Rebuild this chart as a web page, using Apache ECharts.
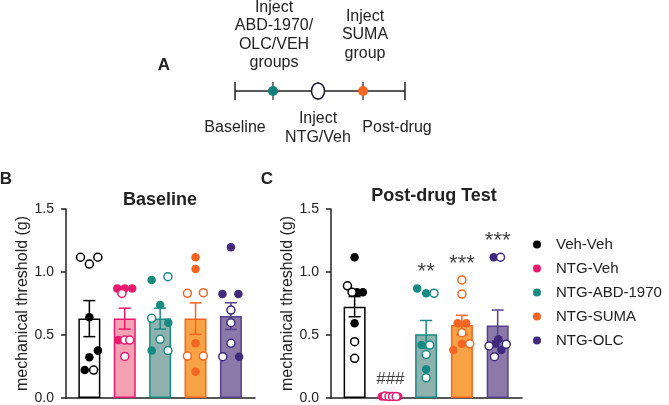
<!DOCTYPE html>
<html><head><meta charset="utf-8">
<script src="https://cdn.jsdelivr.net/npm/echarts@6/dist/echarts.min.js"></script>
<style>html,body{margin:0;padding:0;background:#fff}#c{width:669px;height:405px}</style>
</head><body><div id="c"></div>
<script>
// ---------- data ----------
const groups = ['Veh-Veh', 'NTG-Veh', 'NTG-ABD-1970', 'NTG-SUMA', 'NTG-OLC'];
const yTicks = [0, 0.5, 1.0, 1.5];

// Baseline panel (B)
const baseMean = [0.63, 0.63, 0.63, 0.63, 0.65];
const baseSem  = [0.143, 0.083, 0.083, 0.125, 0.106];
const baseFilled = [
  [0.64, 0.376, 0.323, 0.222],
  [0.87, 0.87, 0.87, 0.46],
  [0.937, 0.738, 0.598, 0.376],
  [1.117, 1.024, 0.434, 0.209],
  [1.196, 0.825, 0.825, 0.328]
];
const baseFilledJit = [
  [0, 0.24, 0, -0.13],
  [-0.21, 0.0, 0.21, -0.18],
  [-0.24, 0, 0.23, -0.24],
  [0, 0, 0, 0],
  [0, -0.24, 0.21, 0.23]
];
const baseOpen = [
  [1.117, 1.063, 1.117, 0.222],
  [0.83, 0.46, 0.46, 0.33],
  [0.963, 0.632, 0.466, 0.376],
  [0.831, 0.836, 0.333, 0.333],
  [0.698, 0.598, 0.434, 0.328]
];
const baseOpenJit = [
  [-0.25, 0, 0.24, 0.12],
  [-0.08, 0, 0.14, 0],
  [0.22, -0.24, 0, 0.22],
  [-0.23, 0.22, -0.23, 0.22],
  [0, 0, 0, -0.23]
];

// Post-drug panel (C)
const postMean = [0.725, 0.012, 0.505, 0.579, 0.576];
const postSem  = [0.08, 0.004, 0.11, 0.077, 0.122];
const postFilled = [
  [1.117, 0.84, 0.84, 0.593],
  [0.012, 0.012, 0.012, 0.012],
  [0.87, 0.831, 0.42, 0.228],
  [0.593, 0.593, 0.43, 0.381],
  [1.117, 0.466, 0.43, 0.381]
];
const postFilledJit = [
  [0, 0.07, 0.23, 0],
  [-0.24, -0.12, 0.1, 0.22],
  [-0.25, 0, -0.13, 0],
  [-0.12, 0.12, 0, -0.24],
  [-0.11, 0.02, -0.06, 0.1]
];
const postOpen = [
  [0.89, 0.84, 0.447, 0.315],
  [0.016, 0.012, 0.012, 0.012],
  [0.831, 0.42, 0.345, 0.16],
  [0.937, 0.825, 0.518, 0.43],
  [1.117, 0.413, 0.426, 0.328]
];
const postOpenJit = [
  [-0.2, -0.07, 0, 0],
  [-0.15, -0.04, 0.06, 0.16],
  [0.22, 0.1, 0, 0],
  [0, 0, 0, 0.22],
  [0.08, -0.24, 0.24, -0.09]
];
const postSig = ['', '###', '**', '***', '***'];

// ---------- styles ----------
const FONT = 'Liberation Sans, Arial, sans-serif';
const TXT = '#222';
const dotColor = ['#000000', '#e8196e', '#178a84', '#f26522', '#3f2a7e'];
const barFill  = ['#ffffff', '#f4a1b3', '#8fb2af', '#f7a244', '#8b7aa9'];
const barEdge  = ['#000000', '#e8196e', '#178a84', '#f26522', '#54418f'];

const chart = echarts.init(document.getElementById('c'), null, {renderer: 'canvas'});

const grids = [
  {left: 66, top: 209, width: 189, height: 189},
  {left: 331, top: 209, width: 191, height: 189}
];

function yAxisFor(i) {
  return {
    type: 'value', gridIndex: i, min: yTicks[0], max: yTicks[yTicks.length - 1], interval: 0.5,
    axisLine: {show: true, onZero: false, lineStyle: {color: TXT, width: 1.5}},
    axisTick: {show: true, length: 5, lineStyle: {color: TXT, width: 1.5}},
    axisLabel: {formatter: v => v.toFixed(1), fontSize: 14, color: TXT, margin: 12, fontFamily: FONT},
    splitLine: {show: false},
    name: 'mechanical threshold (g)', nameLocation: 'middle', nameGap: 33,
    nameTextStyle: {fontSize: 16, color: TXT, fontFamily: FONT}
  };
}
function xAxisFor(i) {
  return {
    type: 'value', gridIndex: i, min: -0.66, max: 4.68,
    axisLine: {show: true, onZero: false, lineStyle: {color: TXT, width: 1.5}},
    axisTick: {show: false}, axisLabel: {show: false}, splitLine: {show: false}
  };
}

function panelSeries(p, mean, sem, filled, filledJit, open, openJit, sig) {
  const s = [];
  s.push({
    type: 'bar', xAxisIndex: p, yAxisIndex: p, barWidth: 22, z: 1, silent: true,
    name: 'bar' + p,
    data: groups.map((g, i) => ({value: [i, mean[i]],
      itemStyle: {color: barFill[i], borderColor: barEdge[i], borderWidth: 1.5}}))
  });
  s.push({
    type: 'custom', xAxisIndex: p, yAxisIndex: p, z: 2, silent: true, name: 'err' + p,
    data: groups.map((g, i) => [i, mean[i], sem[i], i]),
    encode: {x: 0, y: 1},
    renderItem: (params, api) => {
      const x = api.value(0), m = api.value(1), e = api.value(2), idx = api.value(3);
      const top = api.coord([x, m + e]), bot = api.coord([x, m - e]);
      const cw = 6;
      const style = {stroke: barEdge[idx], lineWidth: 1.5, fill: null};
      return {type: 'group', children: [
        {type: 'line', shape: {x1: top[0], y1: top[1], x2: bot[0], y2: bot[1]}, style},
        {type: 'line', shape: {x1: top[0] - cw, y1: top[1], x2: top[0] + cw, y2: top[1]}, style},
        {type: 'line', shape: {x1: bot[0] - cw, y1: bot[1], x2: bot[0] + cw, y2: bot[1]}, style}
      ]};
    }
  });
  groups.forEach((g, i) => {
    s.push({
      type: 'scatter', name: g, xAxisIndex: p, yAxisIndex: p, z: 4, symbolSize: 8.5, silent: true,
      itemStyle: {color: dotColor[i], opacity: 1},
      data: filled[i].map((v, k) => [i + filledJit[i][k], v])
    });
    s.push({
      type: 'scatter', name: g + ' open', xAxisIndex: p, yAxisIndex: p, z: 5, symbolSize: 8, silent: true,
      itemStyle: {color: '#ffffff', borderColor: dotColor[i], borderWidth: 1.5, opacity: 1},
      data: open[i].map((v, k) => [i + openJit[i][k], v])
    });
  });
  if (sig) {
    s.push({
      type: 'scatter', name: 'sig' + p, xAxisIndex: p, yAxisIndex: p, z: 6, symbolSize: 0, silent: true,
      data: groups.map((g, i) => ({
        value: [i, Math.max(...filled[i], ...open[i])],
        label: {show: !!sig[i], formatter: sig[i], position: 'top', distance: sig[i].startsWith('#') ? 8 : 5,
          fontSize: sig[i].startsWith('#') ? 17 : 22, color: '#111', fontFamily: FONT}
      }))
    });
  }
  return s;
}

const series = [].concat(
  panelSeries(0, baseMean, baseSem, baseFilled, baseFilledJit, baseOpen, baseOpenJit, null),
  panelSeries(1, postMean, postSem, postFilled, postFilledJit, postOpen, postOpenJit, postSig)
);

function txt(text, x, y, opts) {
  return Object.assign({type: 'text', silent: true, style: Object.assign({
    text, x, y, fill: TXT, fontSize: 16, fontFamily: FONT,
    textAlign: 'center', textVerticalAlign: 'middle', lineHeight: 18.5
  }, opts || {})});
}

const graphic = [
  // timeline
  {type: 'line', silent: true, shape: {x1: 235, y1: 91, x2: 405, y2: 91}, style: {stroke: TXT, lineWidth: 1.5}},
  {type: 'line', silent: true, shape: {x1: 235, y1: 82, x2: 235, y2: 100}, style: {stroke: TXT, lineWidth: 1.5}},
  {type: 'line', silent: true, shape: {x1: 405, y1: 82, x2: 405, y2: 100}, style: {stroke: TXT, lineWidth: 1.5}},
  {type: 'line', silent: true, shape: {x1: 273, y1: 82, x2: 273, y2: 100}, style: {stroke: TXT, lineWidth: 1.2}},
  {type: 'line', silent: true, shape: {x1: 318, y1: 82, x2: 318, y2: 100}, style: {stroke: TXT, lineWidth: 1.2}},
  {type: 'line', silent: true, shape: {x1: 363, y1: 82, x2: 363, y2: 100}, style: {stroke: TXT, lineWidth: 1.2}},
  {type: 'circle', silent: true, shape: {cx: 273, cy: 91, r: 5}, style: {fill: '#127f7a'}},
  {type: 'ellipse', silent: true, shape: {cx: 318, cy: 91, rx: 6.5, ry: 8}, style: {fill: '#fff', stroke: '#1a1a2a', lineWidth: 1.5}},
  {type: 'circle', silent: true, shape: {cx: 363, cy: 91, r: 5}, style: {fill: '#f26522'}},
  txt('Inject\nABD-1970/\nOLC/VEH\ngroups', 274, 35),
  txt('Inject\nSUMA\ngroup', 365, 35),
  txt('Baseline', 235, 128),
  txt('Inject\nNTG/Veh', 318, 128),
  txt('Post-drug', 397, 128),
  txt('A', 164, 65, {fontSize: 17, fontWeight: 'bold'}),
  txt('B', 6, 179, {fontSize: 17, fontWeight: 'bold'}),
  txt('C', 267, 179, {fontSize: 17, fontWeight: 'bold'}),
  txt('Baseline', 160, 200, {fontSize: 18, fontWeight: 'bold'}),
  txt('Post-drug Test', 434, 196, {fontSize: 18, fontWeight: 'bold'})
];

chart.setOption({
  animation: false,
  backgroundColor: '#ffffff',
  textStyle: {fontFamily: FONT},
  grid: grids,
  xAxis: [xAxisFor(0), xAxisFor(1)],
  yAxis: [yAxisFor(0), yAxisFor(1)],
  legend: {
    orient: 'vertical', left: 528, top: 232, itemWidth: 28, itemHeight: 8, itemGap: 9,
    selectedMode: false,
    textStyle: {fontSize: 15, color: TXT, fontFamily: FONT},
    data: groups.map(g => ({name: g, icon: 'circle'}))
  },
  graphic,
  series
});
</script>
</body></html>
